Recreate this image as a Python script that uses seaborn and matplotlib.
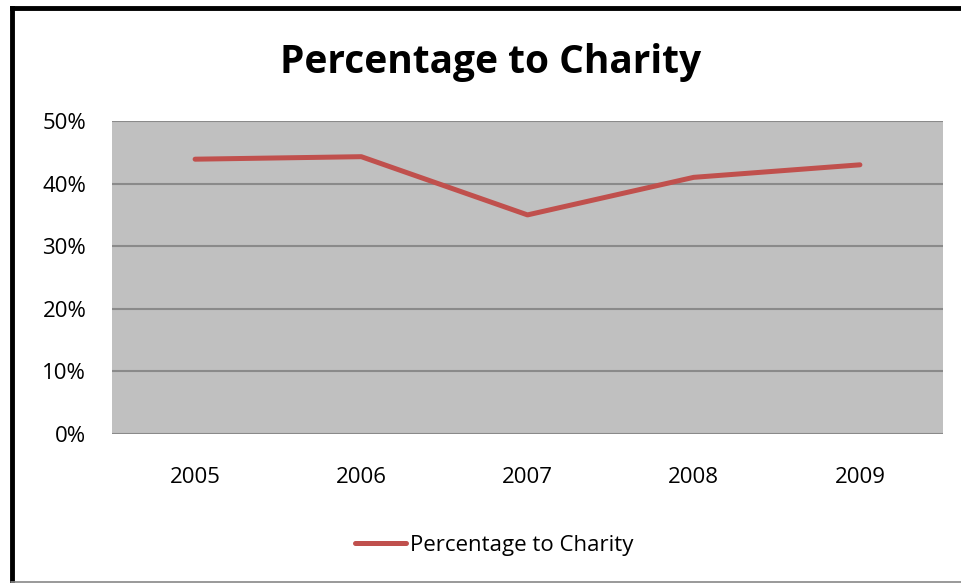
import matplotlib
matplotlib.use("Agg")
import matplotlib.pyplot as plt
import seaborn as sns
import pandas as pd
from matplotlib.ticker import PercentFormatter
from matplotlib.lines import Line2D

years = ["2005", "2006", "2007", "2008", "2009"]
values = [0.439, 0.443, 0.350, 0.410, 0.430]
series_name = "Percentage to Charity"
title = "Percentage to Charity"
yticks = [0.0, 0.1, 0.2, 0.3, 0.4, 0.5]

sns.set_theme(style="white")
plt.rcParams['font.family'] = ['Open Sans', 'DejaVu Sans']
plt.rcParams['text.color'] = 'black'

df = pd.DataFrame({"Year": years, "Value": values})

fig = plt.figure(figsize=(9.61, 5.83), dpi=100)
ax = fig.add_axes([112/961, 1-434/583, (943-112)/961, (434-121)/583])

sns.lineplot(data=df, x="Year", y="Value", ax=ax, color="#C0504D",
             linewidth=3.6, sort=False, solid_capstyle="round", label=series_name)

ax.set_facecolor("#C0C0C0")
ax.set_xlim(-0.5, 4.5)
ax.set_ylim(0, 0.5)
ax.set_yticks(yticks)
ax.yaxis.set_major_formatter(PercentFormatter(1.0, decimals=0))
for y in yticks:
    ax.axhline(y, color="#8A8A8A", linewidth=1.5, zorder=1)
for s in ax.spines.values():
    s.set_visible(False)
ax.tick_params(axis="both", length=0, labelsize=16, colors="black")
ax.tick_params(axis="y", pad=18.5)
ax.tick_params(axis="x", pad=23.5)
ax.set_xlabel("")
ax.set_ylabel("")
ax.grid(False)

leg = ax.get_legend()
if leg:
    leg.remove()
handle = Line2D([], [], color="#C0504D", linewidth=3.6, solid_capstyle="round")
fig.legend([handle], [series_name], loc="center", bbox_to_anchor=(494/961, 1-545/583),
           frameon=False, fontsize=16, handlelength=2.3, handletextpad=0.15,
           labelcolor="black")

fig.text(491/961, 1-62/583, title, ha="center", va="center", fontsize=28,
         fontweight="bold", color="black")

# outer border: black left and top, thin grey bottom
fig.add_artist(Line2D([11.5/961, 11.5/961], [1-582/583, 1-8/583], transform=fig.transFigure,
                      color="black", linewidth=3.5, solid_capstyle="projecting"))
fig.add_artist(Line2D([11.5/961, 1.0], [1-8/583, 1-8/583], transform=fig.transFigure,
                      color="black", linewidth=3.5, solid_capstyle="projecting"))
fig.add_artist(Line2D([11/961, 1.0], [1-582/583, 1-582/583], transform=fig.transFigure,
                      color="#888888", linewidth=1.2))

fig.savefig("out.png", dpi=100)
